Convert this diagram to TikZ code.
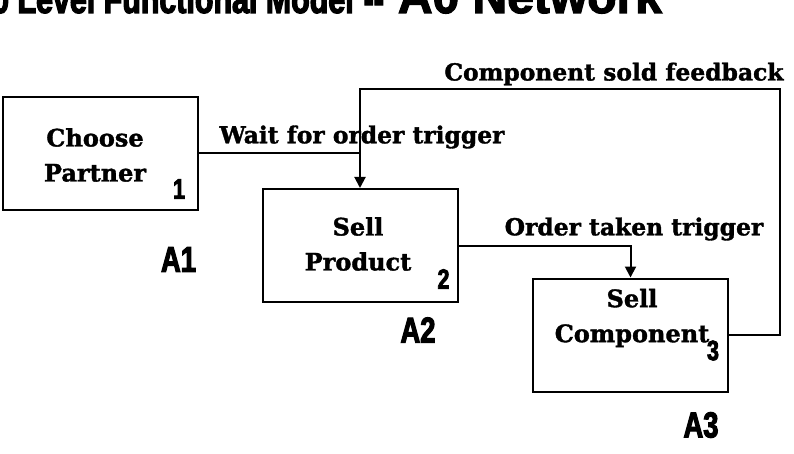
\documentclass[tikz,border=0pt]{standalone}
\usepackage{fontspec}
\setmainfont{DejaVu Serif}[BoldFeatures={FakeBold=1.5}]
\newfontfamily\titlefont{Liberation Sans}[BoldFeatures={FakeBold=2.5}]
\newfontfamily\narrowfont{Liberation Sans}[FakeStretch=0.76,BoldFeatures={FakeBold=3}]
\usetikzlibrary{arrows.meta,calc,positioning}

\tikzset{
  fbox/.style={draw, line width=2pt, minimum width=195pt, minimum height=113pt, inner sep=0pt},
  boxtxt/.style={font=\fontsize{24}{35}\selectfont\bfseries, align=center, inner sep=0pt},
  flowtxt/.style={font=\fontsize{23.4}{26}\selectfont\bfseries, inner sep=0pt},
  actno/.style={font=\narrowfont\fontsize{36}{40}\selectfont\bfseries, inner sep=0pt},
  boxno/.style={font=\narrowfont\fontsize{28}{30}\selectfont\bfseries, inner sep=0pt},
  flow/.style={line width=2pt, -{Triangle[width=11pt,length=11pt]}},
}

\begin{document}
\begin{tikzpicture}[x=1pt,y=-1pt]
    \useasboundingbox (0,0) rectangle (794,454);
    % title, its top runs off the page
    \node[anchor=base west, inner sep=0pt] (ttl) at (-8,13)
        {\narrowfont\bfseries\fontsize{40}{40}\selectfont 0 Level Functional Model\hspace{10pt}--\hspace{14pt}\titlefont\bfseries\fontsize{48}{48}\selectfont A0 Network};

    % activity boxes
    \node[fbox] (a1) at (100.5,153.5) {};
    \node[fbox] (a2) at (360,245.5) {};
    \node[fbox] (a3) at (630.5,335) {};
    \node[boxtxt] (a1t) at (95,155) {Choose\\Partner};
    \node[boxtxt] (a2t) at (358,244) {Sell\\Product};
    \node[boxtxt] (a3t) at (632,318) {Sell\\Component};
    \node[boxno] (a1n) at ($(a1.south east)+(-20,-22)$) {1};
    \node[boxno] (a2n) at ($(a2.south east)+(-15,-24)$) {2};
    \node[boxno] (a3n) at ($(a3.south east)+(-16,-42)$) {3};
    \node[actno] (a1l) at (178.5,259.5) {A1};
    \node[actno] (a2l) at (418,330) {A2};
    \node[actno] (a3l) at (701,425) {A3};

    % flows between the activities
    \coordinate (fbk) at (780,89);
    \draw[line width=2pt] (a1.east) -- (a1.east -| a2.north);
    \draw[flow] (a3.east) -| (fbk) -| (a2.north);
    \draw[flow] (a2.east) -| (a3.north);
    \node[flowtxt] (lwait) at (362,137) {Wait for order trigger};
    \node[flowtxt] (lorder) at (634,229) {Order taken trigger};
    \node[flowtxt] (lfbk) at (614,74) {Component sold feedback};
\end{tikzpicture}
\end{document}
